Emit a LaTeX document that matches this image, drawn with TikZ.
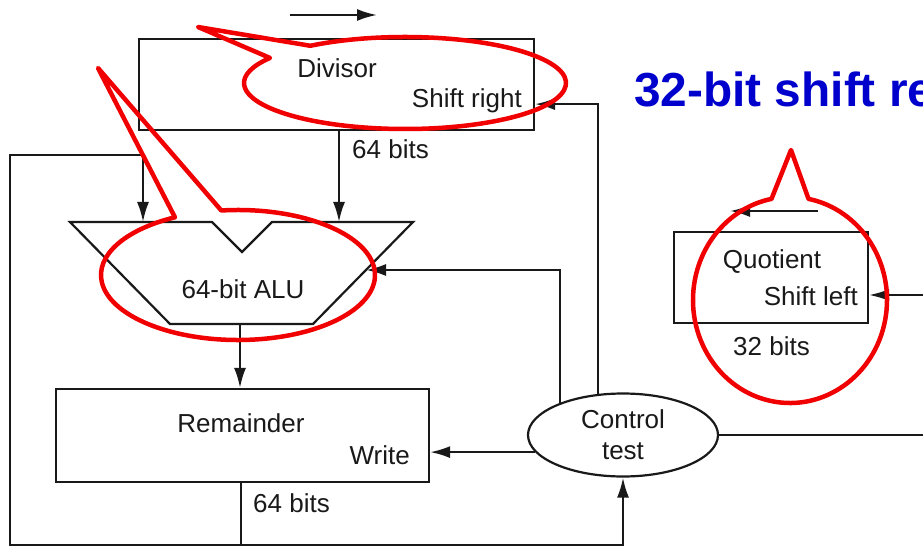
\documentclass[tikz,border=0pt]{standalone}
\usepackage{fontspec}
\setmainfont{Liberation Sans}
\usetikzlibrary{shapes.geometric,arrows.meta,calc}
\definecolor{callred}{RGB}{240,0,0}
\definecolor{titleblue}{RGB}{0,0,205}
\definecolor{ink}{RGB}{25,25,25}
\begin{document}
\begin{tikzpicture}[x=1pt,y=-1pt,
  line/.style={line width=2.2pt, draw=ink},
  arr/.style={line, -{Latex[length=20pt,width=12pt]}},
  box/.style={draw=ink, line width=2.2pt, rectangle, inner sep=0pt},
  lbl/.style={inner sep=0pt, font=\fontsize{26}{31}\selectfont, text=ink},
  callout/.style={draw=callred, line width=4.5pt, line join=round}
]
\useasboundingbox (0,0) rectangle (923,548);
\clip (0,0) rectangle (923,548);

% boxes
\node[box, minimum width=395pt, minimum height=91pt] (div) at (336.5,84.5) {};
\node[box, minimum width=373pt, minimum height=93pt] (rem) at (242.5,435.5) {};
\node[box, minimum width=194pt, minimum height=91pt] (quo) at (771,277.5) {};
\node[draw=ink, ellipse, line width=2.2pt, minimum width=190pt, minimum height=83pt,
      inner sep=0pt, align=center, lbl] (ctrl) at (623,435) {Control\\test};

% ALU shape
\coordinate (a1) at (70,222);
\coordinate (a2) at (212,222);
\coordinate (a3) at (242,252);
\coordinate (a4) at (272,222);
\coordinate (a5) at (413,222);
\coordinate (a6) at (313,324);
\coordinate (a7) at (170,324);
\draw[line] (a1) -- (a2) -- (a3) -- (a4) -- (a5) -- (a6) -- (a7) -- cycle;
\coordinate (aluinL) at (143,222);
\coordinate (aluinR) at (339,222);
\coordinate (aluout) at (240,324);
\coordinate (aluside) at (366,270);

% texts
\node[lbl, anchor=base] (tdiv) at (337,78) {Divisor};
\node[lbl, anchor=base east] (tshr) at (522,108) {Shift right};
\node[lbl, anchor=base west] (t64a) at (352,159) {64 bits};
\node[lbl, anchor=base] (talu) at (243,298) {64-bit ALU};
\node[lbl, anchor=base] (trem) at (241,432) {Remainder};
\node[lbl, anchor=base east] (twr) at (410,464) {Write};
\node[lbl, anchor=base west] (t64b) at (253,512) {64 bits};
\node[lbl, anchor=base] (tquo) at (772,268) {Quotient};
\node[lbl, anchor=base east] (tshl) at (858,305) {Shift left};
\node[lbl, anchor=base west] (t32) at (733,355) {32 bits};
\node[anchor=base west, inner sep=0pt, font=\bfseries\fontsize{47.8}{50}\selectfont,
      text=titleblue] (title) at (634,107) {32-bit shift re};

% direction arrows
\coordinate (dirA1) at (290,15);
\coordinate (dirA2) at (377,15);
\draw[arr] (dirA1) -- (dirA2);
\coordinate (dirB1) at (818,211);
\coordinate (dirB2) at (730,211);
\draw[arr] (dirB1) -- (dirB2);

% connectors
\draw[arr] (div.south -| aluinR) -- (aluinR);
\draw[arr] (aluout) -- (rem.north -| aluout);
\coordinate (j) at (241,545);
\coordinate (bl) at (10,545);
\coordinate (tl) at (10,155);
\draw[line] (rem.south -| j) -- (j);
\draw[arr] (j) -- (bl) -- (tl) -| (aluinL);
\draw[arr] (j) -| (ctrl.south);
\draw[arr] (ctrl.191) -- (ctrl.191 -| rem.east);
\draw[arr] (ctrl.153) |- (aluside);
\draw[arr] (ctrl.121) |- ($(div.south east)+(0,-27)$);
\coordinate (rend) at (930,435);
\draw[line] (ctrl.east) -- (ctrl.east -| rend);
\coordinate (qin) at (930,295);
\draw[arr] (qin) -- (qin -| quo.east);

% red callouts
\draw[callout] (198,27) -- ($(405,83)+(234:161 and 46)$)
   arc[start angle=234, end angle=573, x radius=161, y radius=46] -- cycle;
\draw[callout] (98,68) -- ($(238,275)+(263:137 and 65)$)
   arc[start angle=263, end angle=602.6, x radius=137, y radius=65] -- cycle;
\draw[callout] (791,150) -- ($(790,300)+(281:97 and 103)$)
   arc[start angle=281, end angle=619, x radius=97, y radius=103] -- cycle;
\end{tikzpicture}
\end{document}
